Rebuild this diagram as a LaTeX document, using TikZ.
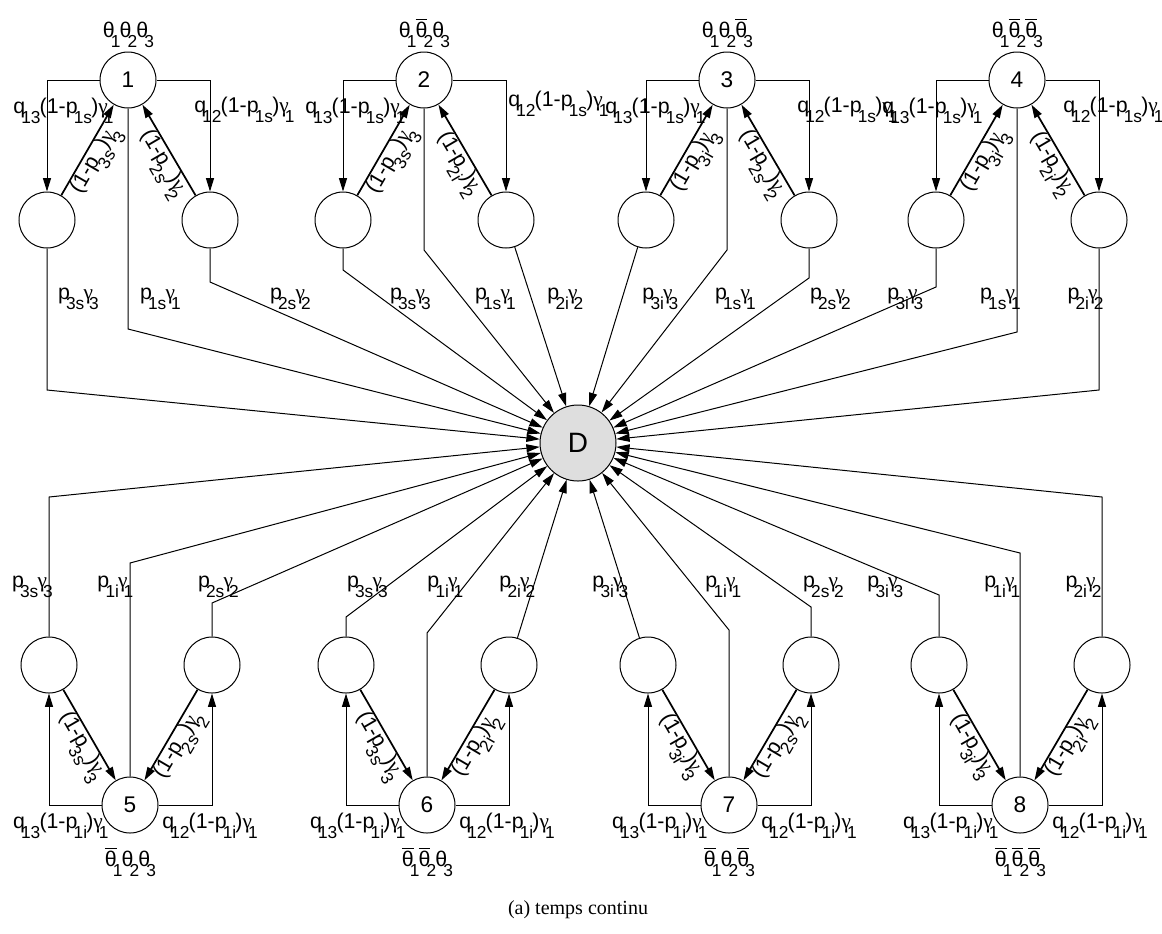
\documentclass[tikz,border=0pt]{standalone}
\usepackage{fontspec}
\setmainfont{Liberation Sans}
\newfontfamily\grk{Liberation Serif}
\newfontfamily\capfont{Liberation Serif}
\usetikzlibrary{arrows.meta}
\newcommand{\lo}[1]{\kern-0.18em\raisebox{-0.5em}{\fontsize{13}{13}\selectfont #1}\kern-0.04em}
\newcommand{\gm}{{\grk γ}}
\newcommand{\tht}{θ}
\newcommand{\tb}{$\overline{\mbox{θ}}$}

\begin{document}
\begin{tikzpicture}[x=0.75pt, y=-0.75pt,
  st/.style={circle, draw, line width=0.75pt, minimum size=42pt, inner sep=0pt,
             font=\fontsize{17}{17}\selectfont},
  dst/.style={st, fill=black!13, minimum size=57pt, font=\fontsize{21}{21}\selectfont},
  lab/.style={inner sep=0pt, font=\fontsize{16}{18}\selectfont},
  ln/.style={line width=0.75pt},
  arr/.style={ln, -{Triangle[length=10pt,width=6pt]}},
  barr/.style={arr, line width=1.3pt}]
\useasboundingbox (0,0) rectangle (1162,933);

\node[dst] (D) at (578,443) {D};

% upper states
\foreach \idx/\x/\ql/\qr/\qy/\ia/\ib/\state in {1/128/-15/66/112/s/s/{\tht\lo1\tht\lo2\tht\lo3},
    2/424/-19/84/106/s/i/{\tht\lo1\tb\lo2\tht\lo3},
    3/727/-22/70/112/i/s/{\tht\lo1\tht\lo2\tb\lo3},
    4/1017/-35/46/112/i/i/{\tht\lo1\tb\lo2\tb\lo3}}{
  \node[st] (t\idx) at (\x,80) {\idx};
  \node[st] (tl\idx) at (\x-81,220) {};
  \node[st] (tr\idx) at (\x+82,220) {};
  \node[lab, anchor=base] (tth\idx) at (\x,37) {\state};
  \draw[arr] (t\idx) -| (tl\idx);
  \draw[arr] (t\idx) -| (tr\idx);
  \draw[barr] (tl\idx) -- node[lab, sloped, below, pos=0.45] {(1-p\lo{3\ia})\gm\lo3} (t\idx);
  \draw[barr] (tr\idx) -- node[lab, sloped, below, pos=0.42] {(1-p\lo{2\ib})\gm\lo2} (t\idx);
  \node[lab, anchor=base east] (tq\idx) at (\x+\ql,113) {q\lo{13}(1-p\lo{1s})\gm\lo1};
  \node[lab, anchor=base west] (tp\idx) at (\x+\qr,\qy) {q\lo{12}(1-p\lo{1s})\gm\lo1};
}

% lower states
\foreach \idx/\x/\ia/\ib/\state in {5/130/s/s/{\tb\lo1\tht\lo2\tht\lo3},
    6/427/s/i/{\tb\lo1\tb\lo2\tht\lo3},
    7/729/i/s/{\tb\lo1\tht\lo2\tb\lo3},
    8/1020/i/i/{\tb\lo1\tb\lo2\tb\lo3}}{
  \node[st] (b\idx) at (\x,805) {\idx};
  \node[st] (bl\idx) at (\x-81,665) {};
  \node[st] (br\idx) at (\x+82,665) {};
  \node[lab, anchor=base] (bth\idx) at (\x,866) {\state};
  \draw[arr] (b\idx) -| (bl\idx);
  \draw[arr] (b\idx) -| (br\idx);
  \draw[barr] (bl\idx) -- node[lab, sloped, below, pos=0.55] {(1-p\lo{3\ia})\gm\lo3} (b\idx);
  \draw[barr] (br\idx) -- node[lab, sloped, below, pos=0.55] {(1-p\lo{2\ib})\gm\lo2} (b\idx);
  \node[lab, anchor=base east] (bq\idx) at (\x-22,828) {q\lo{13}(1-p\lo{1i})\gm\lo1};
  \node[lab, anchor=base west] (bp\idx) at (\x+32,828) {q\lo{12}(1-p\lo{1i})\gm\lo1};
}

% transitions to D
\draw[arr] (tl1) -- (47,390) -- (D);
\draw[arr] (t1) -- (128,329) -- (D);
\draw[arr] (tr1) -- (210,282) -- (D);
\draw[arr] (tl2) -- (343,270) -- (D);
\draw[arr] (t2) -- (424,250) -- (D);
\draw[arr] (tr2) -- (D);
\draw[arr] (tl3) -- (D);
\draw[arr] (t3) -- (727,250) -- (D);
\draw[arr] (tr3) -- (809,278) -- (D);
\draw[arr] (tl4) -- (936,287) -- (D);
\draw[arr] (t4) -- (1017,332) -- (D);
\draw[arr] (tr4) -- (1099,390) -- (D);

\draw[arr] (bl5) -- (49,497) -- (D);
\draw[arr] (b5) -- (130,563) -- (D);
\draw[arr] (br5) -- (212,603) -- (D);
\draw[arr] (bl6) -- (346,617) -- (D);
\draw[arr] (b6) -- (427,633) -- (D);
\draw[arr] (br6) -- (D);
\draw[arr] (bl7) -- (D);
\draw[arr] (b7) -- (729,630) -- (D);
\draw[arr] (br7) -- (811,607) -- (D);
\draw[arr] (bl8) -- (939,595) -- (D);
\draw[arr] (b8) -- (1020,553) -- (D);
\draw[arr] (br8) -- (1102,497) -- (D);

% rates to D
\foreach \x/\txt in {78/p\lo{3s}\gm\lo3, 160/p\lo{1s}\gm\lo1, 290/p\lo{2s}\gm\lo2,
    410/p\lo{3s}\gm\lo3, 495/p\lo{1s}\gm\lo1, 565/p\lo{2i}\gm\lo2,
    660/p\lo{3i}\gm\lo3, 735/p\lo{1s}\gm\lo1, 830/p\lo{2s}\gm\lo2,
    905/p\lo{3i}\gm\lo3, 1000/p\lo{1s}\gm\lo1, 1085/p\lo{2i}\gm\lo2}
  \node[lab, anchor=base] at (\x,299) {\txt};
\foreach \x/\txt in {32/p\lo{3s}\gm\lo3, 115/p\lo{1i}\gm\lo1, 218/p\lo{2s}\gm\lo2,
    367/p\lo{3s}\gm\lo3, 445/p\lo{1i}\gm\lo1, 517/p\lo{2i}\gm\lo2,
    610/p\lo{3i}\gm\lo3, 723/p\lo{1i}\gm\lo1, 823/p\lo{2s}\gm\lo2,
    885/p\lo{3i}\gm\lo3, 1002/p\lo{1i}\gm\lo1, 1083/p\lo{2i}\gm\lo2}
  \node[lab, anchor=base] at (\x,587) {\txt};

\node[font=\capfont\fontsize{15}{17}\selectfont] (cap) at (578,910) {(a) temps continu};
\end{tikzpicture}
\end{document}
